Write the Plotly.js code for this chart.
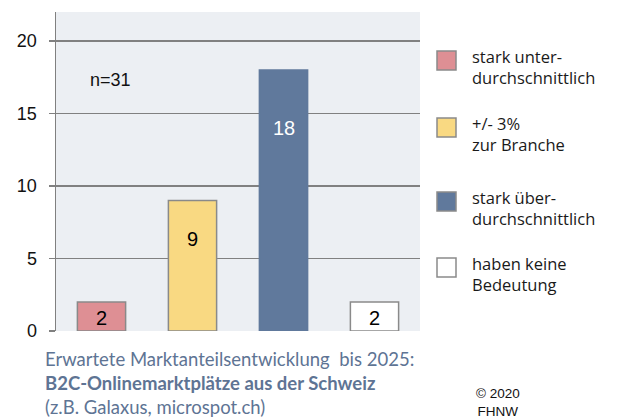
<!DOCTYPE html>
<html><head><meta charset="utf-8">
<script src="https://cdn.plot.ly/plotly-3.0.1.min.js"></script>
<style>html,body{margin:0;padding:0;background:#fff}#c{width:626px;height:418px}</style>
</head><body><div id="c"></div>
<script>
const categories = ["stark unterdurchschnittlich", "+/- 3% zur Branche", "stark überdurchschnittlich", "haben keine Bedeutung"];
const values = [2, 9, 18, 2];
const legendLabels = ["stark unter-<br>durchschnittlich", "+/- 3%<br>zur Branche", "stark über-<br>durchschnittlich", "haben keine<br>Bedeutung"];
const yTicks = [0, 5, 10, 15, 20];
const sampleNote = "n=31";
const captionLines = ["Erwartete Marktanteilsentwicklung  bis 2025:", "<b>B2C-Onlinemarktplätze aus der Schweiz</b>", "(z.B. Galaxus, microspot.ch)"];
const copyrightLines = ["© 2020", "FHNW"];

const colors = ["#DE8F94", "#F9D982", "#60799C", "#FFFFFF"];
const borders = ["#8a8a8a", "#8a8a8a", "#60799C", "#8a8a8a"];
const labelColors = ["#000", "#000", "#fff", "#000"];
const labelShift = [-16, -38, -58, -16];

const trace = {
  type: "bar", x: categories, y: values,
  marker: {color: colors, line: {color: borders, width: 1.5}},
  width: 0.53, hoverinfo: "none", showlegend: false
};

const W = 626, H = 418, L = 56, R = 206, T = 12, B = 87;
const pw = W - L - R, ph = H - T - B;
const px = x => (x - L) / pw;
const py = y => (H - B - y) / ph;

const annotations = [];
values.forEach((v, i) => {
  annotations.push({x: categories[i], y: v, xref: "x", yref: "y", text: String(v), showarrow: false,
    yanchor: "middle", yshift: labelShift[i], font: {family: "Liberation Sans, Arial", size: 20, color: labelColors[i]}});
});
annotations.push({x: px(88), y: py(80), xref: "paper", yref: "paper", xanchor: "left", yanchor: "middle",
  text: sampleNote, showarrow: false, font: {family: "Liberation Sans, Arial", size: 18, color: "#111"}});

const shapes = [];
const legTops = [51, 118, 192, 258];
legendLabels.forEach((t, i) => {
  shapes.push({type: "rect", xref: "paper", yref: "paper", x0: px(437), x1: px(456), y0: py(legTops[i]), y1: py(legTops[i] + 19),
    fillcolor: colors[i], line: {color: "#8a8a8a", width: 1.5}});
  annotations.push({x: px(470), y: py(legTops[i] - 8), xref: "paper", yref: "paper", xanchor: "left", yanchor: "top", align: "left",
    text: t, showarrow: false, font: {family: "Open Sans", size: 16.5, color: "#1a1a1a"}});
});
annotations.push({x: px(43), y: py(346), xref: "paper", yref: "paper", xanchor: "left", yanchor: "top", align: "left",
  text: captionLines.join("<br>"), showarrow: false, font: {family: "Lato, Open Sans, sans-serif", size: 18.5, color: "#5E7494"}});
annotations.push({x: px(498), y: py(384), xref: "paper", yref: "paper", xanchor: "center", yanchor: "top", align: "center",
  text: copyrightLines.join("<br>"), showarrow: false, font: {family: "Liberation Sans, Arial", size: 13.5, color: "#111"}});

const layout = {
  width: W, height: H, margin: {l: L, r: R, t: T, b: B},
  paper_bgcolor: "#fff", plot_bgcolor: "#ECEFF3",
  xaxis: {showticklabels: false, showgrid: false, zeroline: false, ticks: "", fixedrange: true},
  yaxis: {range: [0, 22], tickvals: yTicks, showgrid: true, gridcolor: "#808080", gridwidth: 1.5,
    zeroline: false, showline: true, linecolor: "#808080", linewidth: 1.5,
    ticks: "outside", ticklen: 6, tickcolor: "#808080", tickwidth: 1.5, ticklabelstandoff: 8,
    tickfont: {family: "Liberation Sans, Arial", size: 18, color: "#111"}},
  annotations, shapes, bargap: 0.47, showlegend: false
};
Plotly.newPlot("c", [trace], layout, {staticPlot: true, displayModeBar: false});
</script></body></html>
